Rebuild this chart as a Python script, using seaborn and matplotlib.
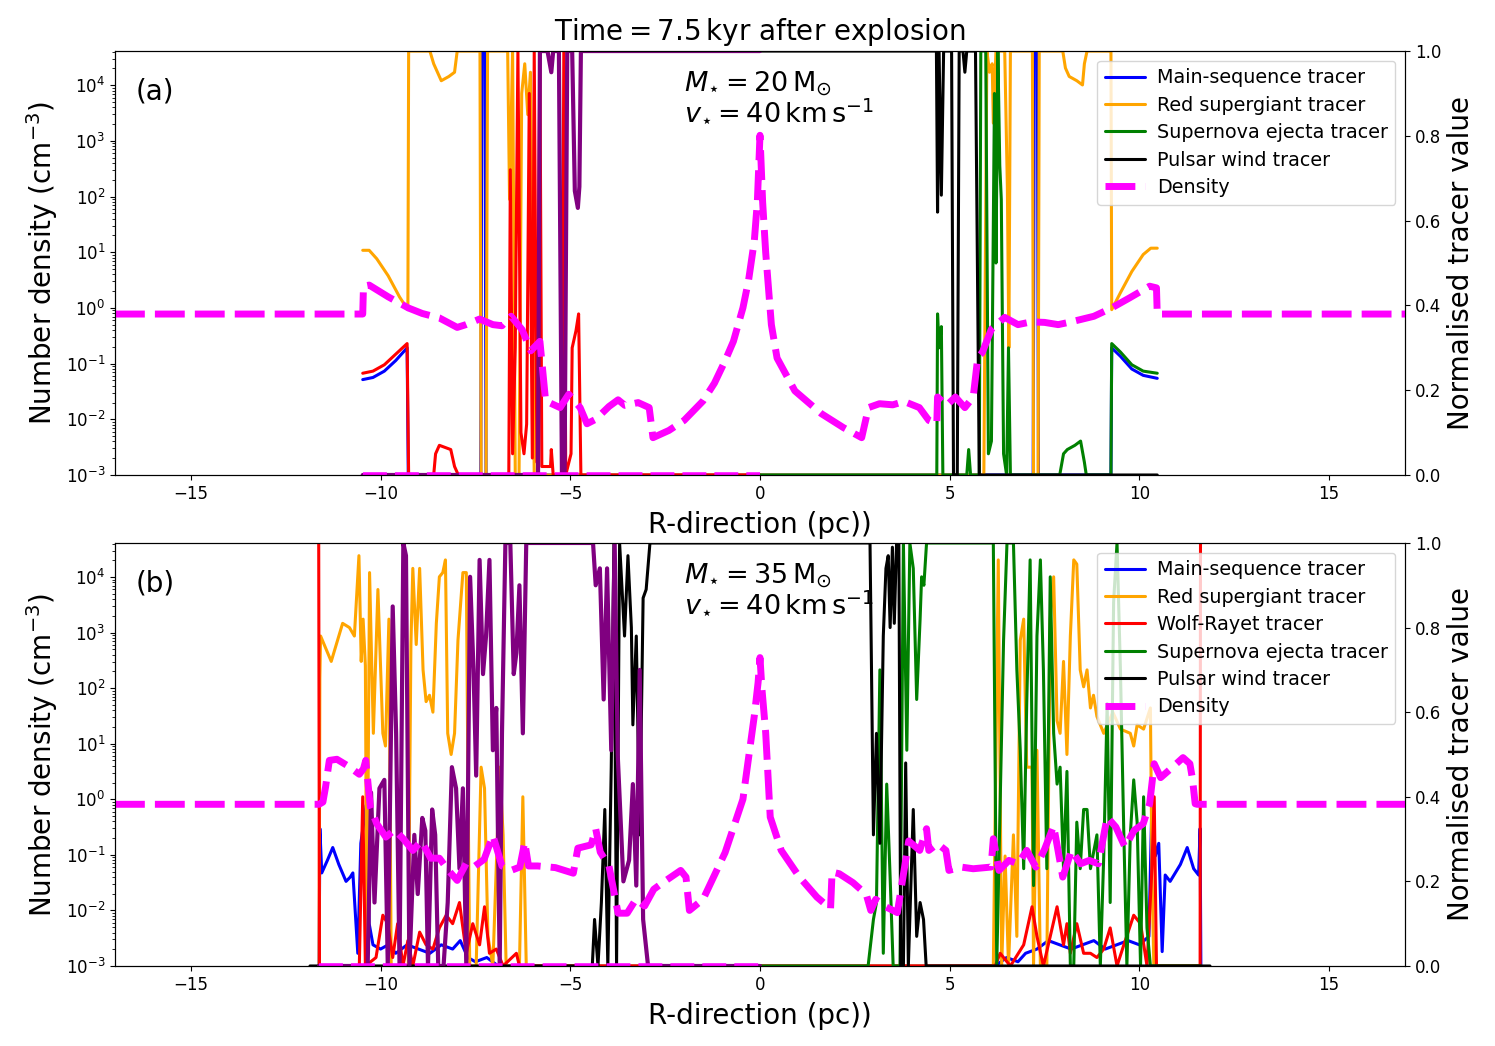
import numpy as np
import matplotlib
matplotlib.use('Agg')
import matplotlib.pyplot as plt
import seaborn as sns

sns.set_style('ticks', {'axes.edgecolor': 'black', 'xtick.color': 'black', 'ytick.color': 'black',
                        'text.color': 'black', 'axes.labelcolor': 'black'})
plt.rcParams['font.family'] = ['DejaVu Sans']
plt.rcParams['mathtext.fontset'] = 'dejavusans'

# ---------------- panel (a): M = 20 Msun ----------------
# density, (x in pc, log10 n in cm^-3)
dens_a = [(-17.0, -0.11), (-10.47, -0.11), (-10.45, 0.39), (-10.3, 0.41), (-9.8, 0.2), (-9.27, 0.0),
          (-8.9, -0.1), (-8.45, -0.18), (-7.98, -0.35), (-7.75, -0.3), (-7.39, -0.2), (-7.04, -0.3),
          (-6.8, -0.32), (-6.56, -0.15), (-6.27, -0.39), (-6.04, -0.77), (-5.8, -0.6), (-5.65, -1.67),
          (-5.27, -1.79), (-5.04, -1.55), (-4.74, -1.79), (-4.56, -2.08), (-4.33, -2.0), (-3.98, -1.77),
          (-3.74, -1.65), (-3.56, -1.75), (-3.21, -1.7), (-2.92, -1.79), (-2.82, -2.33), (-2.4, -2.2),
          (-2.0, -2.02), (-1.5, -1.67), (-1.2, -1.35), (-0.92, -0.95), (-0.7, -0.6), (-0.45, 0.0),
          (-0.3, 0.5), (-0.15, 1.2), (-0.07, 1.9), (0.0, 3.1), (0.07, 1.9), (0.15, 1.0), (0.3, -0.3),
          (0.45, -0.9), (0.92, -1.49), (1.62, -1.9), (2.2, -2.15), (2.68, -2.33), (2.86, -1.79),
          (3.15, -1.72), (3.5, -1.74), (3.8, -1.68), (4.2, -1.79), (4.45, -2.02), (4.66, -2.08),
          (4.68, -1.6), (4.92, -1.75), (5.15, -1.6), (5.4, -1.79), (5.62, -1.6), (5.74, -0.89),
          (5.86, -0.8), (6.1, -0.38), (6.45, -0.17), (6.8, -0.3), (7.15, -0.25), (7.5, -0.26),
          (7.86, -0.3), (8.2, -0.25), (8.8, -0.15), (9.27, 0.0), (9.74, 0.18), (10.27, 0.39),
          (10.45, 0.36), (10.47, -0.11), (17.0, -0.11)]

ms_a = [(-10.47, 0.225), (-10.2, 0.23), (-9.9, 0.245), (-9.6, 0.27), (-9.3, 0.30), (-9.27, 0.0),
        (-7.36, 0.0), (-7.33, 1.0), (-7.25, 1.0), (-7.22, 0.0), (7.2, 0.0), (7.23, 1.0), (7.31, 1.0),
        (7.34, 0.0), (9.25, 0.0), (9.27, 0.30), (9.5, 0.28), (9.8, 0.25), (10.1, 0.235), (10.47, 0.228)]

rsg_a = [(-10.47, 0.53), (-10.3, 0.53), (-10.1, 0.51), (-9.8, 0.47), (-9.5, 0.42), (-9.28, 0.39),
         (-9.26, 1.0), (-8.7, 1.0), (-8.6, 0.97), (-8.5, 0.95), (-8.4, 0.93), (-8.2, 0.94), (-8.05, 0.95),
         (-7.98, 1.0), (-7.38, 1.0), (-7.35, 0.0), (-7.22, 0.0), (-7.18, 1.0), (-6.65, 1.0), (-6.6, 0.65),
         (-6.52, 1.0), (-6.45, 0.0), (-6.35, 0.0), (-6.28, 0.9), (-6.2, 0.97), (-6.12, 0.85),
         (-6.05, 0.95), (-5.95, 0.0), (5.9, 0.0), (5.98, 1.0), (6.05, 0.95), (6.12, 0.97), (6.15, 0.83),
         (6.22, 1.0), (6.45, 1.0), (6.52, 0.68), (6.56, 0.3), (6.6, 1.0), (7.18, 1.0), (7.21, 0.0),
         (7.33, 0.0), (7.36, 1.0), (7.98, 1.0), (8.05, 0.96), (8.15, 0.94), (8.35, 0.93), (8.5, 0.92),
         (8.55, 0.97), (8.62, 1.0), (9.25, 1.0), (9.27, 0.39), (9.5, 0.43), (9.8, 0.48), (10.1, 0.52),
         (10.3, 0.535), (10.47, 0.535)]

wr_a = [(-10.47, 0.24), (-10.2, 0.245), (-9.9, 0.26), (-9.6, 0.285), (-9.3, 0.31), (-9.26, 0.0),
        (-8.6, 0.0), (-8.55, 0.05), (-8.45, 0.07), (-8.3, 0.065), (-8.15, 0.06), (-8.05, 0.02),
        (-7.95, 0.0), (-6.62, 0.0), (-6.58, 0.72), (-6.52, 0.05), (-6.45, 0.3), (-6.38, 1.0),
        (-6.3, 0.1), (-6.22, 0.05), (-6.15, 0.12), (-6.08, 0.9), (-6.0, 0.04), (-5.95, 1.0),
        (-5.88, 0.03), (-5.8, 1.0), (-5.75, 0.02), (-5.52, 0.02), (-5.5, 0.06), (-5.45, 0.0),
        (-5.22, 0.0), (-5.17, 1.0), (-5.12, 0.0), (-4.98, 0.05), (-4.95, 0.3), (-4.85, 0.34),
        (-4.78, 0.38), (-4.72, 0.0), (0.0, 0.0)]

sn_a = [(0.0, 0.0), (4.66, 0.0), (4.68, 0.38), (4.72, 0.3), (4.78, 0.35), (4.82, 0.0), (5.45, 0.0),
        (5.5, 0.06), (5.55, 0.0), (5.78, 0.0), (5.82, 1.0), (5.95, 1.0), (6.02, 0.05), (6.1, 0.08),
        (6.18, 0.9), (6.22, 0.5), (6.27, 1.0), (6.32, 0.73), (6.36, 0.65), (6.42, 0.05), (6.5, 0.0),
        (6.55, 0.3), (6.6, 0.0), (7.9, 0.0), (8.0, 0.05), (8.1, 0.06), (8.3, 0.07), (8.45, 0.08),
        (8.55, 0.03), (8.6, 0.0), (9.25, 0.0), (9.27, 0.31), (9.5, 0.29), (9.8, 0.26), (10.1, 0.245),
        (10.47, 0.24)]

pw_a = [(0.0, 1.0), (4.65, 1.0), (4.68, 0.62), (4.72, 1.0), (4.78, 0.66), (4.84, 1.0), (5.05, 1.0),
        (5.1, 0.0), (5.2, 0.0), (5.25, 1.0), (5.35, 1.0), (5.4, 0.95), (5.45, 1.0), (5.68, 1.0),
        (5.78, 0.0), (10.47, 0.0)]

extra_a = [(-10.47, 0.0), (-5.85, 0.0), (-5.8, 1.0), (-5.6, 1.0), (-5.5, 0.95), (-5.45, 1.0),
           (-5.3, 1.0), (-5.22, 0.0), (-5.15, 0.0), (-5.08, 1.0), (-4.95, 1.0), (-4.88, 0.67),
           (-4.8, 0.63), (-4.76, 0.68), (-4.72, 1.0), (0.0, 1.0)]

base_a = [(-10.47, 0.0), (0.0, 0.0)]

# ---------------- panel (b): M = 35 Msun ----------------
dens_b = [(-17.0, -0.09), (-11.62, -0.09), (-11.52, -0.05), (-11.45, 0.22), (-11.35, 0.7), (-11.15, 0.72),
          (-10.86, 0.6), (-10.56, 0.45), (-10.45, 0.55), (-10.39, 0.7), (-10.27, -0.14), (-10.1, -0.44),
          (-9.86, -0.68), (-9.63, -0.55), (-9.39, -0.72), (-9.15, -0.92), (-8.92, -0.75), (-8.68, -1.06),
          (-8.45, -1.06), (-8.21, -1.28), (-7.98, -1.46), (-7.74, -1.15), (-7.51, -1.2), (-7.27, -1.08),
          (-7.04, -0.65), (-6.8, -1.2), (-6.56, -1.28), (-6.33, -1.22), (-6.2, -0.77), (-6.1, -1.2),
          (-5.86, -1.2), (-5.39, -1.23), (-4.92, -1.33), (-4.8, -0.88), (-4.45, -0.82), (-4.33, -0.53),
          (-4.21, -0.95), (-3.98, -1.2), (-3.74, -2.05), (-3.5, -2.05), (-3.27, -1.8), (-3.04, -1.92),
          (-2.8, -1.62), (-2.56, -1.5), (-2.09, -1.28), (-1.95, -1.4), (-1.86, -2.0), (-1.5, -1.8),
          (-0.92, -0.96), (-0.45, 0.0), (-0.15, 1.5), (-0.05, 2.1), (0.0, 2.55), (0.05, 2.0), (0.15, 1.2),
          (0.27, -0.32), (0.56, -0.92), (1.04, -1.4), (1.5, -1.76), (1.86, -1.97), (1.9, -1.31),
          (2.09, -1.34), (2.45, -1.5), (2.8, -1.71), (2.92, -2.0), (3.05, -1.8), (3.27, -1.92),
          (3.62, -2.04), (3.92, -0.75), (4.21, -0.92), (4.39, -0.53), (4.45, -0.92), (4.68, -0.8),
          (4.9, -0.92), (4.98, -1.28), (5.3, -1.22), (5.62, -1.25), (6.09, -1.22), (6.15, -0.71),
          (6.3, -1.28), (6.56, -1.1), (6.8, -1.16), (7.03, -0.92), (7.27, -1.22), (7.5, -0.9),
          (7.74, -0.48), (7.98, -1.4), (8.21, -0.92), (8.45, -1.16), (8.68, -1.1), (8.92, -1.16),
          (9.15, -0.32), (9.38, -0.5), (9.62, -0.86), (9.86, -0.56), (10.1, -0.44), (10.27, -0.08),
          (10.39, 0.64), (10.56, 0.39), (10.86, 0.57), (11.15, 0.75), (11.33, 0.64), (11.4, 0.36),
          (11.47, -0.08), (11.52, -0.09), (17.0, -0.09)]

ms_b = [(-11.62, 0.0), (-11.6, 0.325), (-11.55, 0.22), (-11.4, 0.25), (-11.26, 0.28), (-11.1, 0.24),
        (-10.91, 0.20), (-10.8, 0.21), (-10.73, 0.22), (-10.6, 0.03), (-10.52, 0.29), (-10.38, 0.38),
        (-10.3, 0.1), (-10.2, 0.05), (-10.0, 0.04), (-9.8, 0.05), (-9.6, 0.03), (-9.3, 0.05),
        (-9.0, 0.04), (-8.7, 0.03), (-8.4, 0.05), (-8.1, 0.04), (-7.9, 0.06), (-7.7, 0.02),
        (-7.5, 0.01), (-7.2, 0.02), (-6.9, 0.0), (6.2, 0.0), (6.5, 0.02), (6.8, 0.01), (7.0, 0.03),
        (7.3, 0.04), (7.6, 0.06), (7.9, 0.05), (8.2, 0.04), (8.5, 0.05), (8.8, 0.06), (9.1, 0.04),
        (9.4, 0.05), (9.7, 0.06), (10.0, 0.05), (10.25, 0.07), (10.33, 0.39), (10.42, 0.26),
        (10.51, 0.29), (10.6, 0.034), (10.68, 0.215), (10.81, 0.20), (11.08, 0.24), (11.26, 0.28),
        (11.43, 0.23), (11.56, 0.215), (11.6, 0.325), (11.62, 0.0)]

rsg_b = [(-11.62, 0.0), (-11.6, 0.68), (-11.58, 0.78), (-11.3, 0.72), (-11.0, 0.81), (-10.82, 0.8),
         (-10.69, 0.78), (-10.57, 0.97), (-10.51, 0.72), (-10.46, 0.82), (-10.4, 0.71), (-10.36, 0.0),
         (-10.29, 0.93), (-10.19, 0.55), (-10.07, 0.89), (-9.94, 0.55), (-9.87, 0.52), (-9.78, 0.82),
         (-9.72, 0.0), (-9.27, 0.0), (-9.2, 0.76), (-9.15, 0.94), (-9.06, 0.76), (-8.97, 0.94),
         (-8.88, 0.70), (-8.8, 0.625), (-8.71, 0.64), (-8.62, 0.60), (-8.53, 0.81), (-8.45, 0.92),
         (-8.36, 0.93), (-8.29, 0.96), (-8.23, 0.55), (-8.14, 0.50), (-8.05, 0.55), (-7.96, 0.77),
         (-7.83, 0.93), (-7.74, 0.93), (-7.7, 0.47), (-7.65, 0.0), (-7.48, 0.0), (-7.35, 0.47),
         (-7.26, 0.42), (-7.17, 0.07), (-7.04, 0.0), (-6.86, 0.47), (-6.77, 0.31), (-6.69, 0.0),
         (-6.34, 0.0), (-6.25, 0.4), (-6.16, 0.0), (6.15, 0.0), (6.28, 0.96), (6.37, 0.0), (6.46, 0.26),
         (6.55, 0.0), (6.68, 0.31), (6.77, 0.07), (6.86, 0.77), (6.95, 0.82), (7.03, 0.47), (7.17, 0.47),
         (7.21, 0.0), (7.3, 0.51), (7.39, 0.0), (7.56, 0.0), (7.65, 0.82), (7.74, 0.92), (7.83, 0.58),
         (7.91, 0.55), (8.0, 0.72), (8.09, 0.50), (8.18, 0.78), (8.27, 0.96), (8.35, 0.95), (8.44, 0.70),
         (8.53, 0.66), (8.62, 0.70), (8.71, 0.61), (8.79, 0.64), (8.88, 0.59), (9.06, 0.55), (9.3, 0.6),
         (9.5, 0.56), (9.76, 0.55), (9.85, 0.52), (9.94, 0.57), (10.11, 0.56), (10.29, 0.61),
         (10.33, 0.23), (10.38, 0.0), (11.62, 0.0)]

wr_b = [(-11.63, 1.0), (-11.61, 0.0), (-10.56, 0.0), (-10.47, 0.40), (-10.4, 0.0), (-10.12, 0.02),
        (-9.94, 0.12), (-9.81, 0.10), (-9.68, 0.02), (-9.55, 0.10), (-9.41, 0.0), (-9.28, 0.06),
        (-9.15, 0.0), (-8.97, 0.08), (-8.8, 0.05), (-8.62, 0.04), (-8.45, 0.09), (-8.27, 0.12),
        (-8.1, 0.10), (-7.92, 0.15), (-7.74, 0.03), (-7.57, 0.10), (-7.39, 0.05), (-7.26, 0.14),
        (-7.13, 0.03), (-6.95, 0.04), (-6.77, 0.0), (-6.42, 0.03), (-6.34, 0.0), (6.2, 0.0),
        (6.33, 0.03), (6.6, 0.0), (6.95, 0.05), (7.17, 0.14), (7.3, 0.07), (7.47, 0.0), (7.65, 0.07),
        (7.83, 0.14), (8.0, 0.05), (8.09, 0.10), (8.18, 0.03), (8.35, 0.10), (8.53, 0.03), (8.71, 0.03),
        (8.88, 0.02), (9.06, 0.04), (9.23, 0.09), (9.41, 0.0), (9.59, 0.05), (9.85, 0.12),
        (10.03, 0.10), (10.2, 0.0), (10.33, 0.23), (10.39, 0.40), (10.45, 0.0), (11.6, 0.0),
        (11.61, 1.0)]

sn_b = [(0.0, 0.0), (2.85, 0.0), (2.99, 0.11), (3.07, 0.15), (3.16, 0.70), (3.25, 0.03), (3.34, 0.43),
        (3.43, 0.21), (3.51, 0.0), (3.69, 0.0), (3.78, 1.0), (3.87, 0.51), (3.95, 1.0), (4.04, 0.94),
        (4.13, 0.63), (4.22, 0.82), (4.26, 0.92), (4.32, 0.9), (4.39, 1.0), (6.15, 1.0), (6.24, 0.0),
        (6.42, 0.77), (6.51, 1.0), (6.68, 1.0), (6.77, 0.70), (6.86, 0.51), (6.95, 0.23), (7.03, 0.62),
        (7.12, 0.96), (7.21, 0.19), (7.3, 0.78), (7.39, 0.96), (7.47, 0.70), (7.56, 0.23), (7.65, 0.92),
        (7.74, 0.55), (7.83, 0.43), (7.91, 0.47), (8.0, 0.23), (8.09, 0.46), (8.18, 0.0), (8.27, 0.0),
        (8.35, 0.34), (8.44, 0.23), (8.53, 0.37), (8.62, 0.37), (8.71, 0.23), (8.88, 0.31), (8.97, 0.0),
        (9.06, 0.26), (9.15, 0.62), (9.23, 0.15), (9.32, 0.86), (9.41, 1.0), (9.5, 0.70), (9.59, 0.31),
        (9.67, 0.0), (9.76, 0.31), (9.85, 0.44), (9.94, 0.34), (10.03, 0.0), (10.11, 0.40), (10.2, 0.09),
        (10.29, 0.0), (11.62, 0.0)]

pw_b = [(-11.86, 0.0), (-4.42, 0.0), (-4.36, 0.11), (-4.27, 0.0), (-4.18, 0.15), (-4.09, 0.37),
        (-4.01, 0.0), (-3.92, 0.47), (-3.85, 1.0), (-3.78, 0.0), (-3.7, 1.0), (-3.57, 0.78), (-3.48, 0.97),
        (-3.39, 0.8), (-3.35, 0.57), (-3.26, 0.78), (-3.17, 0.31), (-3.08, 0.87), (-3.0, 0.89),
        (-2.9, 1.0), (2.9, 1.0), (2.99, 0.31), (3.07, 0.55), (3.16, 0.29), (3.25, 0.78), (3.32, 0.94),
        (3.38, 0.97), (3.43, 0.80), (3.49, 0.99), (3.54, 0.81), (3.6, 1.0), (3.66, 1.0), (3.71, 0.0),
        (3.78, 0.0), (3.84, 0.48), (3.91, 0.0), (4.04, 0.37), (4.13, 0.07), (4.22, 0.15), (4.31, 0.11),
        (4.38, 0.0), (11.86, 0.0)]

extra_b = [(-11.62, 0.0), (-10.34, 0.0), (-10.25, 0.41), (-10.16, 0.15), (-10.03, 0.42), (-9.9, 0.44),
           (-9.81, 0.0), (-9.68, 0.85), (-9.59, 0.55), (-9.5, 0.0), (-9.4, 1.0), (-9.33, 0.97),
           (-9.24, 0.0), (-9.11, 0.31), (-9.02, 0.17), (-8.9, 0.35), (-8.82, 0.32), (-8.75, 0.0),
           (-8.64, 0.37), (-8.56, 0.31), (-8.48, 0.0), (-8.34, 0.0), (-8.23, 0.15), (-8.12, 0.47),
           (-8.01, 0.42), (-7.92, 0.23), (-7.83, 0.42), (-7.74, 0.0), (-7.64, 0.92), (-7.55, 0.70),
           (-7.48, 0.45), (-7.39, 0.96), (-7.3, 0.69), (-7.22, 0.78), (-7.13, 0.96), (-7.04, 0.51),
           (-6.95, 0.61), (-6.86, 0.0), (-6.8, 0.55), (-6.71, 1.0), (-6.58, 1.0), (-6.49, 0.69),
           (-6.42, 0.74), (-6.34, 0.9), (-6.25, 0.55), (-6.16, 1.0), (-4.4, 1.0), (-4.33, 0.9),
           (-4.22, 0.94), (-4.12, 0.63), (-4.03, 0.94), (-3.92, 0.51), (-3.83, 1.0), (-3.75, 0.5),
           (-3.6, 0.2), (-3.45, 0.25), (-3.35, 0.43), (-3.26, 0.19), (-3.17, 0.70), (-3.08, 0.11),
           (-2.95, 0.0), (0.0, 0.0)]

base_b = [(-11.62, 0.0), (0.0, 0.0)]

panel_labels = ['(a)', '(b)']
mass_labels = [r'$M_{\star} = 20\,\mathrm{M}_{\odot}$', r'$M_{\star} = 35\,\mathrm{M}_{\odot}$']
vel_label = r'$v_{\star} = 40\,\mathrm{km\,s^{-1}}$'

C_MS, C_RSG, C_WR, C_SN, C_PW = 'blue', 'orange', 'red', 'green', 'black'
C_EXTRA, C_DENS = 'purple', 'magenta'
DENS_LS = (0, (4.3, 1.45))


def draw(ax, pts, color, lw=2.2, **kw):
    x, y = zip(*pts)
    sns.lineplot(x=list(x), y=list(y), ax=ax, sort=False, estimator=None, color=color,
                 lw=lw, legend=False, **kw)


fig = plt.figure(figsize=(14.95, 10.46), dpi=100)
rects = [[0.0769, 0.5459, 0.8629, 0.4053], [0.0769, 0.0765, 0.8629, 0.4044]]

panels = [
    dict(dens=dens_a, ms=ms_a, rsg=rsg_a, wr=wr_a, sn=sn_a, pw=pw_a, extra=extra_a, base=base_a, wr_leg=False),
    dict(dens=dens_b, ms=ms_b, rsg=rsg_b, wr=wr_b, sn=sn_b, pw=pw_b, extra=extra_b, base=base_b, wr_leg=True),
]

for i, p in enumerate(panels):
    ax_d = fig.add_axes(rects[i])
    ax_t = ax_d.twinx()
    ax_d.set_zorder(ax_t.get_zorder() + 1)
    ax_d.patch.set_visible(False)
    ax_t.patch.set_visible(True)
    ax_t.patch.set_facecolor('white')

    # tracers, right axis
    draw(ax_t, p['ms'], C_MS)
    draw(ax_t, p['rsg'], C_RSG)
    draw(ax_t, p['wr'], C_WR)
    draw(ax_t, p['sn'], C_SN)
    draw(ax_t, p['pw'], C_PW)
    draw(ax_t, p['extra'], C_EXTRA, lw=3)
    draw(ax_t, p['base'], C_DENS, lw=4, linestyle=DENS_LS)

    # density, left axis (log)
    dx, dlog = zip(*p['dens'])
    sns.lineplot(x=list(dx), y=list(10.0 ** np.array(dlog)), ax=ax_d, sort=False, estimator=None,
                 color=C_DENS, lw=5, linestyle=DENS_LS, legend=False)

    ax_d.set_yscale('log')
    ax_d.set_ylim(1e-3, 4.1e4)
    ax_d.set_xlim(-17, 17)
    ax_t.set_ylim(0, 1)
    ax_d.set_xticks([-15, -10, -5, 0, 5, 10, 15])
    ax_t.set_yticks([0.0, 0.2, 0.4, 0.6, 0.8, 1.0])
    ax_t.set_yticklabels(['0.0', '0.2', '0.4', '0.6', '0.8', '1.0'])
    ax_d.tick_params(labelsize=12)
    ax_t.tick_params(labelsize=12)

    ax_d.set_xlabel('R-direction (pc))', fontsize=20, labelpad=6)
    ax_d.set_ylabel(r'Number density (cm$^{-3}$)', fontsize=20)
    ax_t.set_ylabel('Normalised tracer value', fontsize=20)

    ax_d.text(0.016, 0.905, panel_labels[i], transform=ax_d.transAxes, fontsize=20, va='center')
    ax_d.text(0.441, 0.92, mass_labels[i], transform=ax_d.transAxes, fontsize=19.5, va='center')
    ax_d.text(0.441, 0.855, vel_label, transform=ax_d.transAxes, fontsize=19.5, va='center')

    handles = [plt.Line2D([], [], color=C_MS, lw=2.2), plt.Line2D([], [], color=C_RSG, lw=2.2)]
    labels = ['Main-sequence tracer', 'Red supergiant tracer']
    if p['wr_leg']:
        handles.append(plt.Line2D([], [], color=C_WR, lw=2.2))
        labels.append('Wolf-Rayet tracer')
    handles += [plt.Line2D([], [], color=C_SN, lw=2.2), plt.Line2D([], [], color=C_PW, lw=2.2),
                plt.Line2D([], [], color=C_DENS, lw=5, linestyle=DENS_LS)]
    labels += ['Supernova ejecta tracer', 'Pulsar wind tracer', 'Density']
    ax_d.legend(handles, labels, loc='upper right', fontsize=13.8, labelspacing=0.44,
                handlelength=2.1, handletextpad=0.6, framealpha=0.8, edgecolor='0.8', fancybox=True)

    if i == 0:
        ax_d.set_title(r'$\mathrm{Time} = 7.5\,\mathrm{kyr}$ after explosion', fontsize=20, pad=8)

fig.savefig('out.png', dpi=100)
